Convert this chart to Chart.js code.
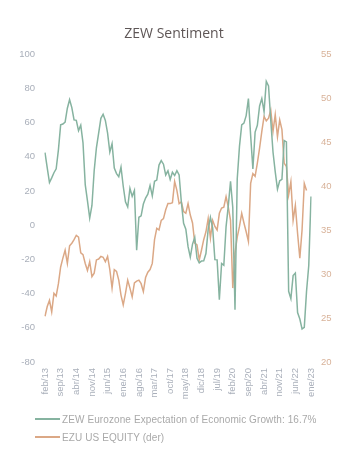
<!DOCTYPE html>
<html>
<head>
<meta charset="utf-8">
<script src="https://cdn.jsdelivr.net/npm/chart.js@4.4.1/dist/chart.umd.min.js"></script>
<style>
  html, body { margin: 0; padding: 0; background: #ffffff; }
  #wrap { position: relative; width: 356px; height: 469px; overflow: hidden; background: #fff; }
  #c { position: absolute; left: 0; top: 0; }
  #title { position: absolute; left: -4px; top: 23px; width: 356px; text-align: center;
           font-family: "Open Sans", sans-serif; font-size: 14px; color: #5e5656; }
  .leg { position: absolute; left: 35px; height: 12px; font-family: "Liberation Sans", Arial, sans-serif;
         font-size: 10px; color: #a9a9a9; white-space: nowrap; line-height: 12px; letter-spacing: 0.1px; }
  .leg span.ln { display: inline-block; width: 25px; height: 2px; vertical-align: middle; margin-right: 2px; position: relative; top: -1px; }
</style>
</head>
<body>
<div id="wrap">
  <canvas id="c" width="356" height="469"></canvas>
  <div id="title">ZEW Sentiment</div>
  <div class="leg" style="top:414px;"><span class="ln" style="background:#86b3a0"></span>ZEW Eurozone Expectation of Economic Growth: 16.7%</div>
  <div class="leg" style="top:432px;"><span class="ln" style="background:#dba886"></span>EZU US EQUITY (der)</div>
</div>
<script>
// Month abbreviations (Spanish) and range of the category axis
const monthNames = ["ene","feb","mar","abr","may","jun","jul","ago","sep","oct","nov","dic"];
const startYear = 2013, startMonth = 1, monthCount = 120; // feb/13 .. ene/23
const categories = [];
for (let k = 0; k < monthCount; k++) {
  const m = (startMonth + k) % 12;
  const y = startYear + Math.floor((startMonth + k) / 12);
  categories.push(monthNames[m] + "/" + String(y).slice(2));
}
// Tick labels shown on the x axis (every 7 months)
const tickLabels = ["feb/13","sep/13","abr/14","nov/14","jun/15","ene/16","ago/16","mar/17","oct/17",
                    "may/18","dic/18","jul/19","feb/20","sep/20","abr/21","nov/21","jun/22","ene/23"];

// ZEW Eurozone Expectation of Economic Growth (left axis)
const zew = [
  42.4, 33.4, 24.9, 27.6, 30.6, 32.9, 44.0, 58.6, 59.1, 60.2, 68.3,
  73.3, 68.7, 61.5, 61.2, 55.2, 58.4, 48.1, 23.7, 14.2, 4.1, 11.5, 31.8,
  45.2, 53.7, 62.4, 64.8, 61.2, 53.7, 42.7, 47.6, 33.3, 30.1, 28.3, 33.9,
  22.7, 13.6, 10.6, 21.5, 16.8, 20.2, -14.7, 4.6, 5.4, 12.3, 15.8, 18.1,
  23.2, 17.1, 25.6, 26.3, 35.1, 37.7, 35.6, 29.3, 31.7, 26.7, 30.9, 29.0,
  31.8, 29.3, 13.4, 1.1, -2.4, -12.6, -18.7, -11.1, -7.2, -19.4, -22.0, -21.0,
  -20.9, -16.6, -2.5, 4.5, -1.6, -20.2, -20.3, -43.6, -22.4, -23.5, -1.0, 11.2,
  25.6, 10.4, -49.5, 27.0, 46.0, 58.6, 59.6, 64.0, 73.9, 52.3, 32.8, 54.4,
  58.3, 69.6, 74.0, 66.3, 84.0, 81.3, 61.2, 42.7, 31.1, 21.0, 25.9, 26.8,
  49.4, 48.6, -38.7, -43.0, -29.5, -28.0, -51.1, -54.9, -60.7, -59.7, -38.7, -23.6,
  16.7
];

// EZU US EQUITY (right axis)
const ezu = [
  25.2, 26.3, 27.0, 25.7, 27.8, 27.5, 28.9, 30.8, 31.8, 32.7, 31.2, 33.2,
  33.5, 33.9, 34.4, 34.2, 32.4, 32.2, 31.2, 30.4, 31.4, 29.7, 30.1, 31.6,
  31.7, 32.0, 31.9, 31.4, 32.0, 30.5, 28.4, 30.5, 30.3, 29.3, 27.6, 26.5,
  27.8, 29.3, 28.4, 27.4, 29.0, 29.2, 29.3, 28.9, 28.0, 29.6, 30.2, 30.5,
  31.2, 33.9, 35.2, 35.0, 36.1, 36.3, 37.3, 38.0, 38.0, 38.1, 40.5, 39.5,
  38.0, 38.2, 37.1, 36.9, 38.0, 36.7, 35.8, 33.5, 33.3, 31.6, 32.7, 33.9,
  34.8, 36.3, 34.1, 36.1, 35.4, 35.0, 36.9, 37.5, 37.6, 38.8, 37.6, 36.1,
  28.4, 32.4, 34.2, 35.4, 36.9, 35.8, 34.8, 33.7, 40.3, 41.4, 41.1, 42.6,
  44.3, 46.2, 47.9, 47.4, 47.7, 48.6, 46.2, 48.1, 45.6, 47.5, 46.4, 42.6,
  42.2, 39.0, 40.5, 36.1, 37.8, 34.6, 31.8, 35.0, 40.3, 39.5, null, null
];

const leftTicks = { min: -80, max: 100, step: 20 };
const rightTicks = { min: 20, max: 55, step: 5 };

const ctx = document.getElementById('c').getContext('2d');
new Chart(ctx, {
  type: 'line',
  data: {
    labels: categories,
    datasets: [
      { label: 'ZEW Eurozone Expectation of Economic Growth: 16.7%', data: zew, yAxisID: 'y',
        borderColor: '#86b3a0', borderWidth: 1.5, pointRadius: 0, tension: 0, fill: false },
      { label: 'EZU US EQUITY (der)', data: ezu, yAxisID: 'y1',
        borderColor: '#dba886', borderWidth: 1.5, pointRadius: 0, tension: 0, fill: false, spanGaps: false }
    ]
  },
  options: {
    responsive: false,
    animation: false,
    devicePixelRatio: 1,
    layout: { padding: { top: 54, left: 0, right: 0, bottom: 0 } },
    plugins: { legend: { display: false }, title: { display: false }, tooltip: { enabled: false } },
    scales: {
      x: {
        grid: { display: false, drawTicks: false },
        border: { display: false },
        ticks: {
          autoSkip: false, minRotation: 90, maxRotation: 90, padding: 6,
          color: '#a9afba', font: { family: 'Liberation Sans', size: 9.5 },
          callback: function(v, i) {
            const lbl = categories[i];
            return tickLabels.indexOf(lbl) >= 0 ? lbl : null;
          }
        },
        afterFit: function(s) { s.height = 107; }
      },
      y: {
        position: 'left', min: leftTicks.min, max: leftTicks.max,
        grid: { display: false, drawTicks: false },
        border: { display: false },
        ticks: { stepSize: leftTicks.step, padding: 10, color: '#a9afba', font: { family: 'Liberation Sans', size: 9.5 } },
        afterFit: function(s) { s.width = 45; }
      },
      y1: {
        position: 'right', min: rightTicks.min, max: rightTicks.max,
        grid: { display: false, drawTicks: false },
        border: { display: false },
        ticks: { stepSize: rightTicks.step, padding: 10, color: '#d8b299', font: { family: 'Liberation Sans', size: 9.5 } },
        afterFit: function(s) { s.width = 45; }
      }
    }
  }
});
</script>
</body>
</html>
